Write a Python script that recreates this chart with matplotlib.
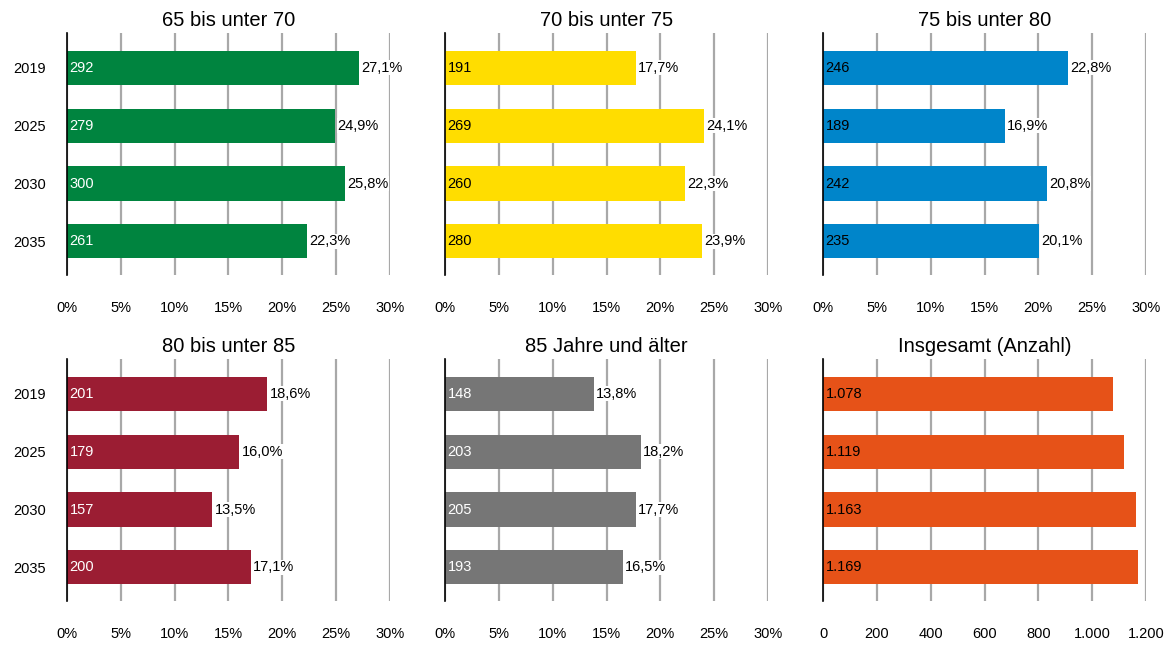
import matplotlib.pyplot as plt

plt.rcParams['font.family'] = ['Liberation Sans', 'DejaVu Sans']

years = ["2019", "2025", "2030", "2035"]

titles = ["65 bis unter 70", "70 bis unter 75", "75 bis unter 80",
          "80 bis unter 85", "85 Jahre und älter"]
counts = [
    [292, 279, 300, 261],
    [191, 269, 260, 280],
    [246, 189, 242, 235],
    [201, 179, 157, 200],
    [148, 203, 205, 193],
]
shares = [
    [27.1, 24.9, 25.8, 22.3],
    [17.7, 24.1, 22.3, 23.9],
    [22.8, 16.9, 20.8, 20.1],
    [18.6, 16.0, 13.5, 17.1],
    [13.8, 18.2, 17.7, 16.5],
]
total_counts = [1078, 1119, 1163, 1169]

colors = ["#00843F", "#FFDD00", "#0085CA", "#9B1D33", "#767676", "#E65218"]
text_colors = ["white", "black", "black", "white", "white", "black"]

pct_ticks = [0, 5, 10, 15, 20, 25, 30]
pct_labels = ["0%", "5%", "10%", "15%", "20%", "25%", "30%"]
total_ticks = [0, 200, 400, 600, 800, 1000, 1200]
total_labels = ["0", "200", "400", "600", "800", "1.000", "1.200"]

W, H = 1167, 645
fig = plt.figure(figsize=(W / 100, H / 100), dpi=100)

lefts = [67, 445, 823]
tops = [33, 359]
aw, ah = 323, 242
fs = 10.5


def style_axis(ax, ticks, labels, title, show_years):
    ax.set_xticks(ticks)
    ax.set_xticklabels(labels, fontsize=fs)
    ax.set_xlim(ticks[0], ticks[-1])
    ax.set_yticks(range(len(years)))
    ax.set_yticklabels(years if show_years else [""] * len(years), fontsize=fs)
    ax.set_ylim(3.58, -0.6)
    ax.tick_params(axis="x", length=0, pad=19)
    ax.tick_params(axis="y", length=0, pad=15)
    for s in ["top", "right", "bottom"]:
        ax.spines[s].set_visible(False)
    ax.spines["left"].set_color("black")
    ax.spines["left"].set_linewidth(1.2)
    ax.spines["left"].set_zorder(4)
    ax.xaxis.grid(True, color="#A8A8A8", linewidth=1.6)
    ax.set_axisbelow(True)
    ax.set_title(title, fontsize=14.5, pad=5)


for i in range(6):
    row, col = divmod(i, 3)
    x0 = lefts[col] / W
    y0 = 1 - (tops[row] + ah) / H
    ax = fig.add_axes([x0, y0, aw / W, ah / H])
    if i < 5:
        vals = shares[i]
        ax.barh(range(len(years)), vals, height=0.59, color=colors[i], zorder=2)
        for j, v in enumerate(vals):
            ax.text(0.25, j, str(counts[i][j]), color=text_colors[i],
                    va="center", ha="left", fontsize=fs, zorder=3)
            ax.text(v + 0.2, j, f"{v:.1f}%".replace(".", ","), color="black",
                    va="center", ha="left", fontsize=fs, zorder=3,
                    bbox=dict(facecolor="white", edgecolor="none", pad=0.5))
        style_axis(ax, pct_ticks, pct_labels, titles[i], col == 0)
    else:
        ax.barh(range(len(years)), total_counts, height=0.59, color=colors[i], zorder=2)
        for j, v in enumerate(total_counts):
            ax.text(10, j, f"{v:,}".replace(",", "."), color=text_colors[i],
                    va="center", ha="left", fontsize=fs, zorder=3)
        style_axis(ax, total_ticks, total_labels, "Insgesamt (Anzahl)", False)

fig.savefig("out.png", dpi=100)
